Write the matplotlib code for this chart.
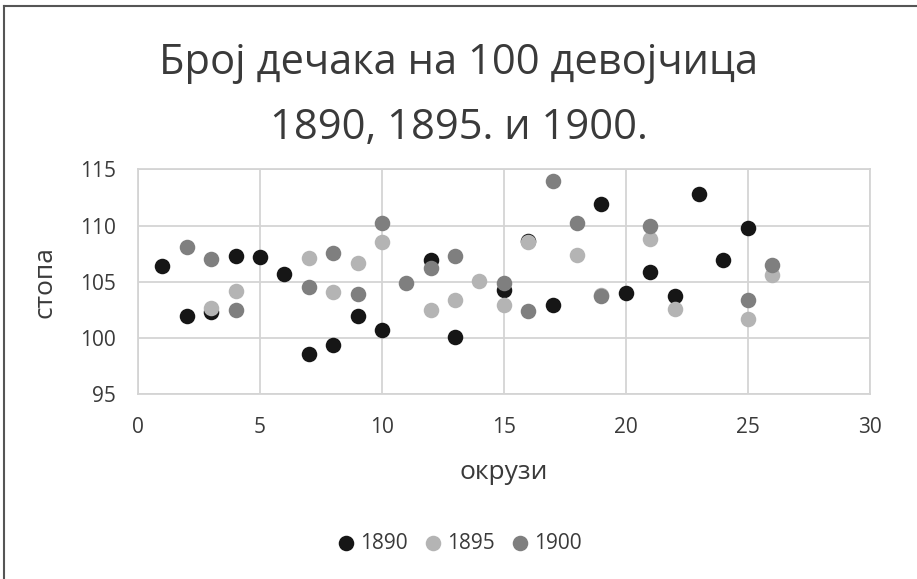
import matplotlib.pyplot as plt
from matplotlib.lines import Line2D

plt.rcParams['font.family'] = ['Open Sans', 'DejaVu Sans']

# data
x_1890 = [1, 2, 3, 4, 5, 6, 7, 8, 9, 10, 12, 13, 15, 16, 17, 19, 20, 21, 22, 23, 24, 25]
y_1890 = [106.4, 102.0, 102.3, 107.3, 107.2, 105.7, 98.6, 99.4, 102.0, 100.7, 106.9,
          100.1, 104.3, 108.6, 102.9, 111.9, 104.0, 105.9, 103.7, 112.8, 106.9, 109.8]

x_1895 = [3, 4, 7, 8, 9, 10, 12, 13, 14, 15, 16, 18, 19, 21, 22, 25, 26]
y_1895 = [102.7, 104.2, 107.1, 104.1, 106.7, 108.5, 102.5, 103.4, 105.1, 102.9,
          108.5, 107.4, 103.8, 108.8, 102.6, 101.7, 105.6]

x_1900 = [2, 3, 4, 7, 8, 9, 10, 11, 12, 13, 15, 16, 17, 18, 19, 21, 25, 26]
y_1900 = [108.1, 107.0, 102.5, 104.5, 107.6, 103.9, 110.2, 104.9, 106.2, 107.3,
          104.9, 102.4, 114.0, 110.2, 103.7, 110.0, 103.4, 106.5]

series = [("1890", x_1890, y_1890, "#161616"),
          ("1895", x_1895, y_1895, "#b4b4b4"),
          ("1900", x_1900, y_1900, "#7f7f7f")]

title = "Број дечака на 100 девојчица\n1890, 1895. и 1900."
x_label = "окрузи"
y_label = "стопа"

text_col = "#3a3a3a"
grid_col = "#d4d4d4"

fig = plt.figure(figsize=(9.17, 5.79), dpi=100)
ax = fig.add_axes([0.1505, 0.319, 0.798, 0.3886])

# 1900 drawn last so it sits on top, like the original
for name, xs, ys, col in series:
    ax.scatter(xs, ys, s=125, color=col, label=name, zorder=3, linewidths=0)

ax.set_xlim(0, 30)
ax.set_ylim(95, 115)
ax.set_xticks(range(0, 31, 5))
ax.set_yticks(range(95, 116, 5))
ax.grid(True, color=grid_col, linewidth=1.3)
ax.set_axisbelow(True)
for sp in ax.spines.values():
    sp.set_color(grid_col)
    sp.set_linewidth(1.3)
ax.tick_params(length=0, labelsize=15, labelcolor=text_col)
ax.tick_params(axis="x", pad=16)
ax.tick_params(axis="y", pad=16)

ax.set_xlabel(x_label, fontsize=19, color=text_col, labelpad=16)
ax.set_ylabel(y_label, fontsize=19, color=text_col, labelpad=16)

fig.text(0.5, 0.743, title, ha="center", va="bottom", fontsize=30,
         color=text_col, linespacing=1.7)

leg = fig.legend(loc="center", bbox_to_anchor=(0.5, 0.062), ncol=3, frameon=False,
                 fontsize=15, handlelength=1.0, handletextpad=0.18, columnspacing=0.7)
for t in leg.get_texts():
    t.set_color(text_col)

# chart border (only top and left visible in the original crop)
fig.add_artist(Line2D([0.0045, 1.0], [0.9895, 0.9895], transform=fig.transFigure,
                      color="#555555", linewidth=1.5))
fig.add_artist(Line2D([0.0045, 0.0045], [0.0, 0.9895], transform=fig.transFigure,
                      color="#555555", linewidth=1.5))

fig.savefig("out.png", dpi=100)
